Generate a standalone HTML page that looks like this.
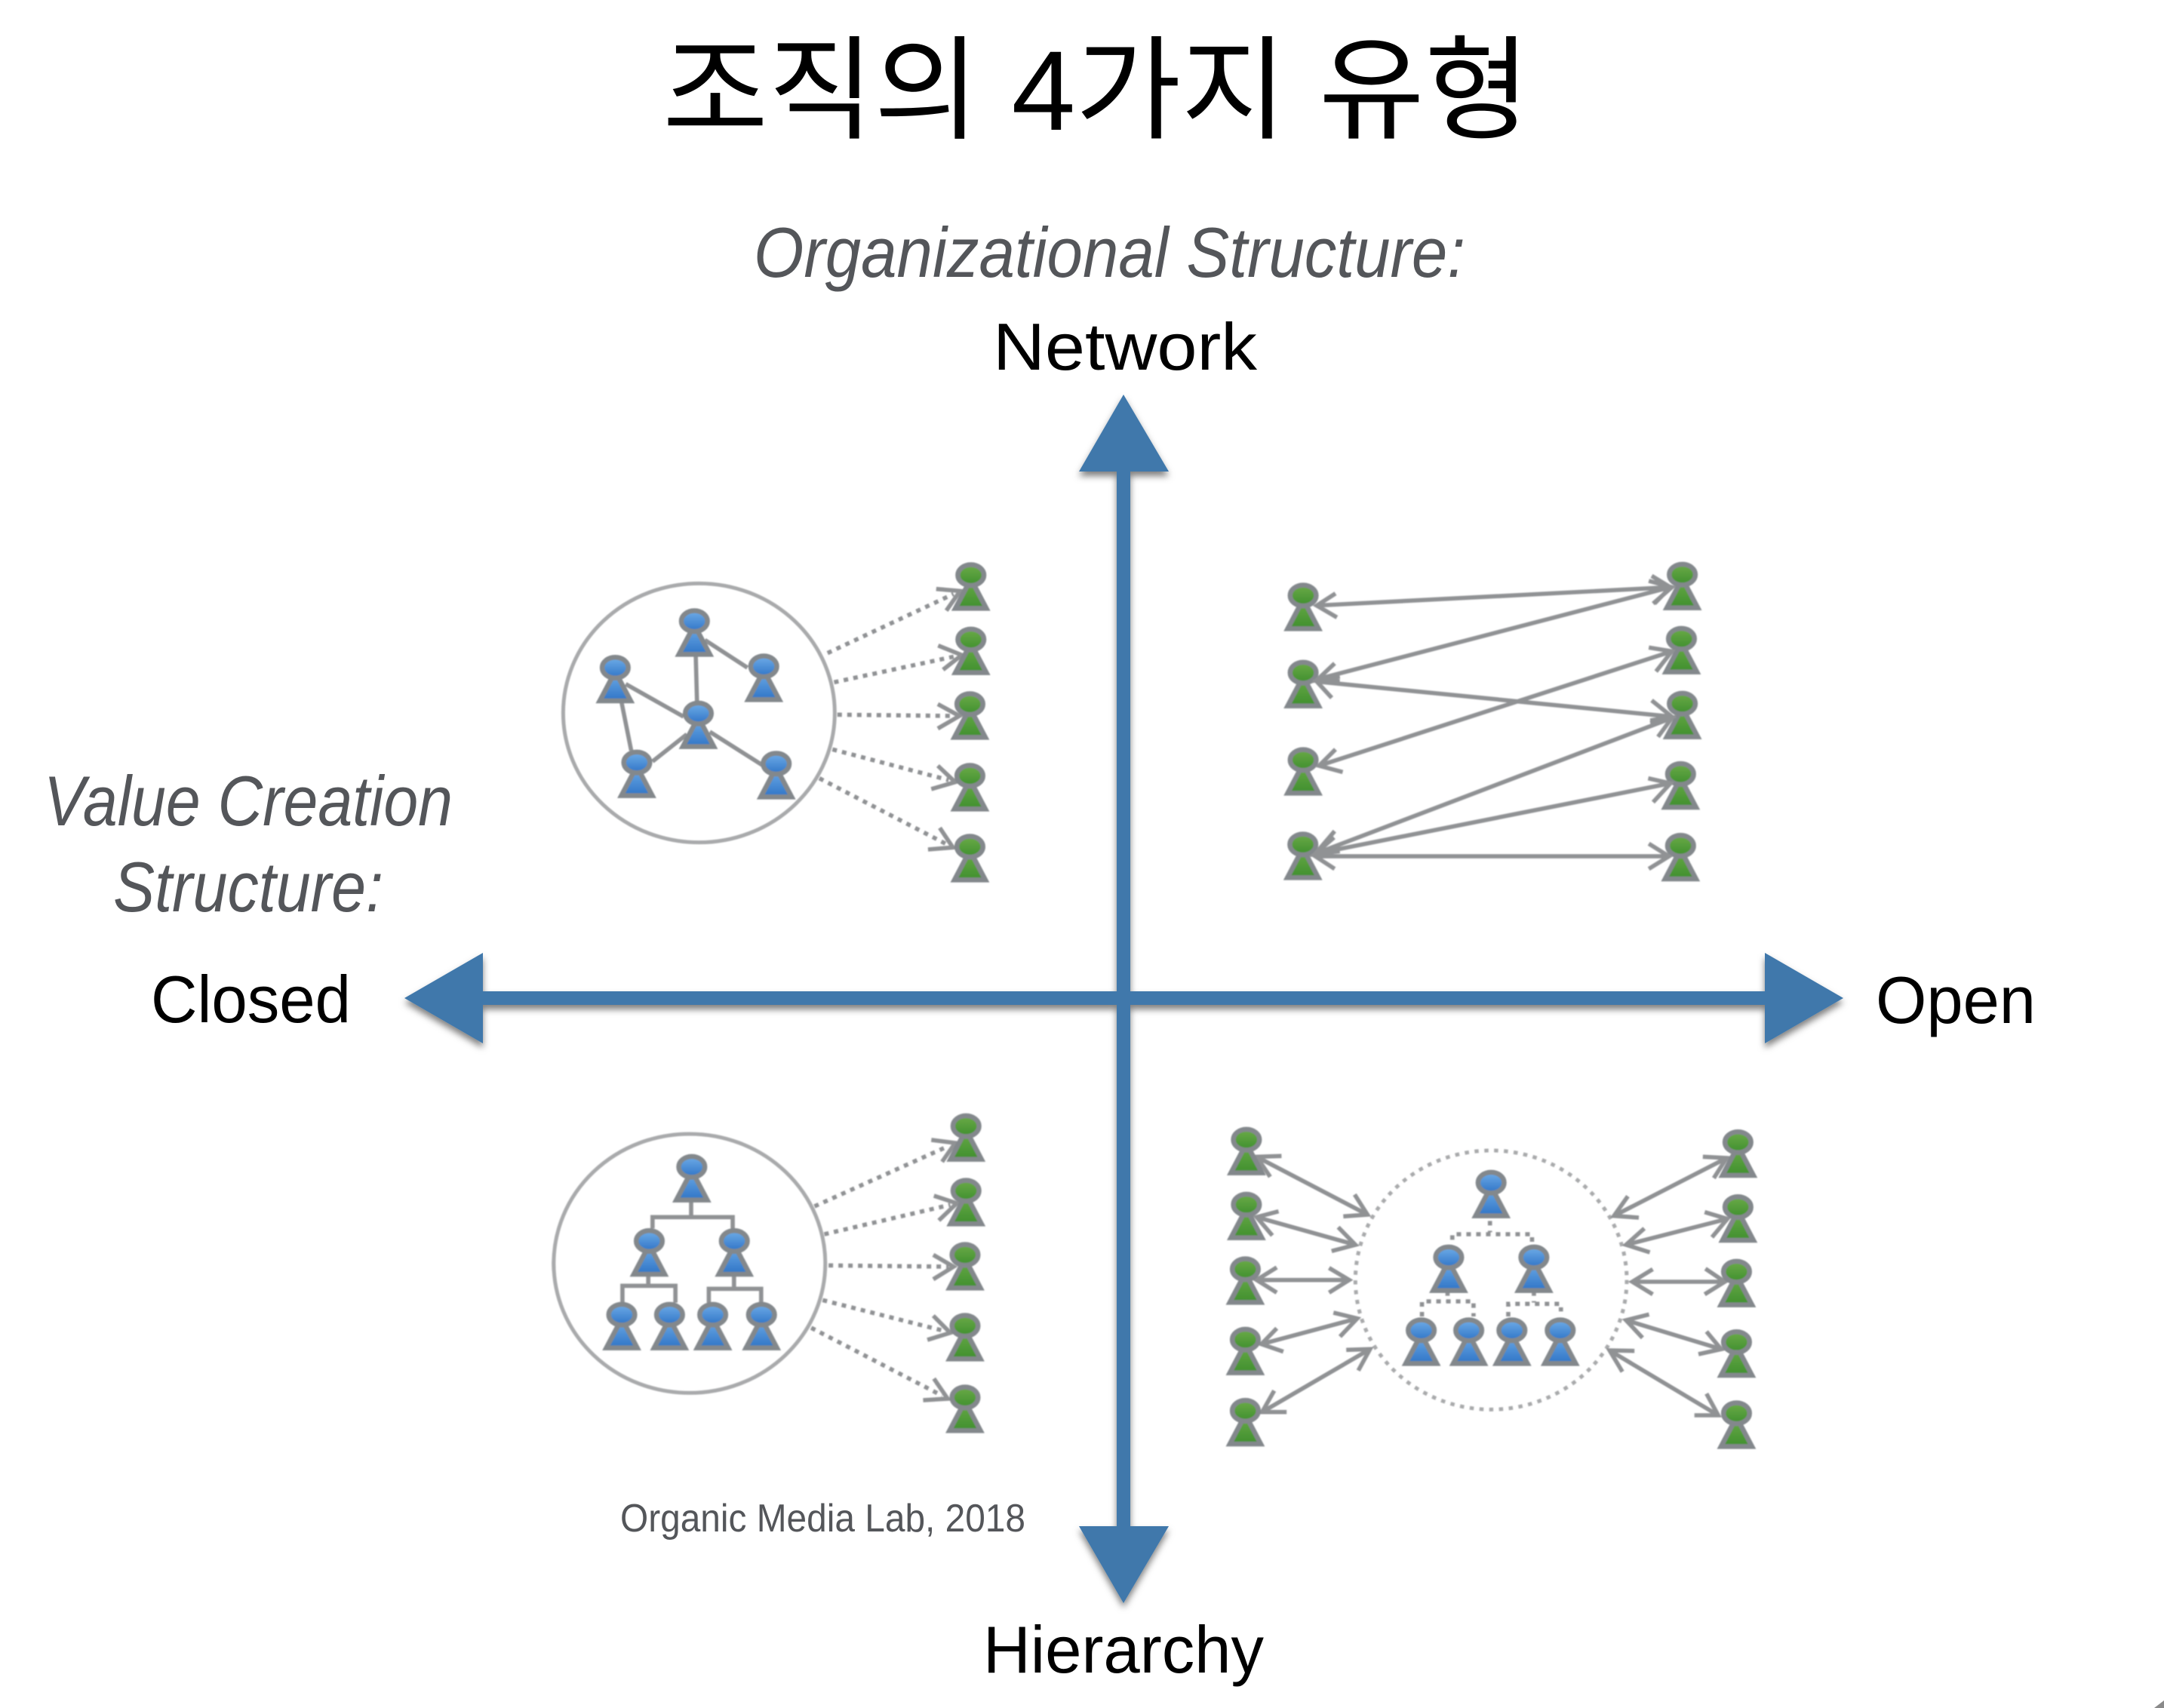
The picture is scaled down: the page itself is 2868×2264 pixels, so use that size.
<!DOCTYPE html>
<html><head><meta charset="utf-8"><style>
html,body{margin:0;padding:0;background:#fff;width:2868px;height:2264px;overflow:hidden}
svg{display:block}
text{font-family:"Liberation Sans","Noto Sans CJK KR",sans-serif}
.s{fill:none;stroke:#909294;stroke-width:5.6;vector-effect:non-scaling-stroke}
.d{fill:none;stroke:#909294;stroke-width:5.6;stroke-dasharray:6 7;vector-effect:non-scaling-stroke}
.c{fill:none;stroke:#a9aaac;stroke-width:5;vector-effect:non-scaling-stroke}
.cd{fill:none;stroke:#a9aaac;stroke-width:5;stroke-dasharray:5.5 7.5;vector-effect:non-scaling-stroke}
</style></head><body>
<svg xmlns="http://www.w3.org/2000/svg" width="2868" height="2264" viewBox="0 0 2868 2264">
<defs>
<linearGradient id="gb" x1="0" y1="0" x2="0" y2="1"><stop offset="0" stop-color="#6fade8"/><stop offset="1" stop-color="#2f74c6"/></linearGradient>
<linearGradient id="gg" x1="0" y1="0" x2="0" y2="1"><stop offset="0" stop-color="#6bab48"/><stop offset="1" stop-color="#3f8f2e"/></linearGradient>
<g id="b"><polygon points="0,5 -20.5,44 20.5,44" fill="url(#gb)" stroke="#83888c" stroke-width="6.5"/><ellipse cx="0" cy="0" rx="17.3" ry="13.8" fill="url(#gb)" stroke="#83888c" stroke-width="6.5"/></g>
<g id="g"><polygon points="0,5 -20.5,44 20.5,44" fill="url(#gg)" stroke="#83888c" stroke-width="6.5"/><ellipse cx="0" cy="0" rx="17.3" ry="13.8" fill="url(#gg)" stroke="#83888c" stroke-width="6.5"/></g>
<filter id="sh" filterUnits="userSpaceOnUse" x="0" y="0" width="2868" height="2264"><feDropShadow dx="0" dy="6" stdDeviation="4.5" flood-color="#000" flood-opacity=".5"/></filter>
<filter id="soft" filterUnits="userSpaceOnUse" x="0" y="0" width="2868" height="2264"><feGaussianBlur stdDeviation=".9"/></filter>
</defs>

<rect width="2868" height="2264" fill="#fff"/>
<polygon points="2868,2264 2855,2264 2868,2254" fill="#8a8a8a"/>

<!-- Axes -->
<g fill="#3f78ab" filter="url(#sh)">
<rect x="1480" y="600" width="18" height="1440"/>
<rect x="620" y="1314" width="1740" height="18"/>
<polygon points="1489,523 1430,625 1549,625"/>
<polygon points="1489,2125 1430,2023 1549,2023"/>
<polygon points="536,1323 640,1263 640,1383"/>
<polygon points="2443,1323 2339,1263 2339,1383"/>
</g>

<g filter="url(#soft)">
<!-- Q1 -->
<g transform="translate(700,720) scale(.43365,.33333)">
<ellipse class="c" cx="522" cy="675" rx="415" ry="515"/>
<path class="s" d="M512 440L516 630M540 385L670 495M298 560L475 690M285 630L315 825M380 868L485 760M555 750L715 882"/>
<path class="d" d="M915 437L1300 202M935 553L1305 450M945 682L1300 687M930 820L1285 942M890 935L1280 1198"/>
<path class="s" d="M1247 182L1320 190L1278 268M1253 407L1325 445L1268 503M1252 640L1318 687L1252 737M1252 885L1305 950L1232 978M1258 1132L1298 1210L1222 1218"/>
<use href="#b" transform="translate(508 310) scale(2.306 3)"/>
<use href="#b" transform="translate(266 495) scale(2.306 3)"/>
<use href="#b" transform="translate(720 490) scale(2.306 3)"/>
<use href="#b" transform="translate(520 677) scale(2.306 3)"/>
<use href="#b" transform="translate(332 872) scale(2.306 3)"/>
<use href="#b" transform="translate(758 877) scale(2.306 3)"/>
<use href="#g" transform="translate(1353 127) scale(2.306 3)"/>
<use href="#g" transform="translate(1353 383) scale(2.306 3)"/>
<use href="#g" transform="translate(1350 640) scale(2.306 3)"/>
<use href="#g" transform="translate(1350 925) scale(2.306 3)"/>
<use href="#g" transform="translate(1350 1207) scale(2.306 3)"/>
</g>

<!-- Q3 -->
<g transform="translate(700,1450) scale(.43365,.33333)">
<ellipse class="c" cx="493" cy="674" rx="415" ry="515"/>
<path class="s" d="M498 430L498 490M380 535L380 490L625 490L625 535M367 725L367 765M288 830L288 763L450 763L450 830M629 725L629 775M552 830L552 775L712 775L712 830"/>
<path class="d" d="M875 447L1285 207M905 558L1290 441M918 682L1285 687M900 820L1270 942M865 930L1265 1200"/>
<path class="s" d="M1232 183L1305 195L1265 270M1240 405L1310 435L1255 503M1238 640L1300 687L1238 737M1238 882L1290 950L1220 978M1240 1132L1282 1212L1207 1218"/>
<use href="#b" transform="translate(500 290) scale(2.306 3)"/>
<use href="#b" transform="translate(370 585) scale(2.306 3)"/>
<use href="#b" transform="translate(630 585) scale(2.306 3)"/>
<use href="#b" transform="translate(286 878) scale(2.306 3)"/>
<use href="#b" transform="translate(432 878) scale(2.306 3)"/>
<use href="#b" transform="translate(564 878) scale(2.306 3)"/>
<use href="#b" transform="translate(713 878) scale(2.306 3)"/>
<use href="#g" transform="translate(1338 128) scale(2.306 3)"/>
<use href="#g" transform="translate(1338 385) scale(2.306 3)"/>
<use href="#g" transform="translate(1335 640) scale(2.306 3)"/>
<use href="#g" transform="translate(1335 922) scale(2.306 3)"/>
<use href="#g" transform="translate(1335 1207) scale(2.306 3)"/>
</g>

<!-- Q2 -->
<g transform="translate(1680,720) scale(.38270,.33333)">
<use href="#g" transform="translate(123 208) scale(2.613 3)"/>
<use href="#g" transform="translate(123 515) scale(2.613 3)"/>
<use href="#g" transform="translate(123 862) scale(2.613 3)"/>
<use href="#g" transform="translate(122 1198) scale(2.613 3)"/>
<use href="#g" transform="translate(1436 125) scale(2.613 3)"/>
<use href="#g" transform="translate(1433 380) scale(2.613 3)"/>
<use href="#g" transform="translate(1436 638) scale(2.613 3)"/>
<use href="#g" transform="translate(1430 918) scale(2.613 3)"/>
<use href="#g" transform="translate(1430 1203) scale(2.613 3)"/>
<path class="s" d="M170 248L1395 175M235 200L170 248L240 295M1330 130L1395 175L1340 240
M1395 175L175 540M232 478L170 545L250 530M1320 150L1400 175L1335 240
M170 550L1400 690M250 548L170 550L222 615M1330 625L1400 690L1325 705
M178 885L1400 430M235 820L178 885L260 910M1320 415L1400 430L1345 510
M165 1235L1400 695M232 1145L165 1235L240 1215M1352 770L1400 695L1325 715
M165 1235L1395 955M230 1170L165 1235L250 1225M1318 935L1395 955L1335 1030
M165 1245L1390 1245M240 1205L165 1245L232 1295M1320 1195L1390 1245L1320 1295"/>
</g>

<!-- Q4 -->
<g transform="translate(1600,1470) scale(.48473,.33333)">
<ellipse class="cd" cx="776" cy="680" rx="371" ry="515"/>
<path class="d" d="M773 445L773 490M670 520L670 498L888 498L888 530M657 725L657 765M587 825L587 765L728 765L728 825M893 725L893 770M823 825L823 775L967 775L967 805"/>
<path class="s" d="M135 190L438 420M203 187L135 190L172 270M403 340L438 420L372 427
M135 430L405 540M195 407L135 430L178 503M358 470L405 540L340 565
M135 680L388 680M190 630L135 680L190 730M333 632L388 680L333 730
M148 935L410 833M190 872L148 935L208 965M345 810L410 833L363 905
M150 1205L445 955M183 1120L150 1205L217 1205M380 958L445 955L413 1040
M1420 195L1112 425M1355 190L1420 195L1385 275M1150 347L1112 425L1180 432
M1422 437L1145 540M1360 410L1422 437L1380 510M1195 475L1145 540L1210 570
M1415 687L1162 687M1362 635L1415 687L1360 737M1218 637L1162 687L1218 737
M1405 955L1145 840M1365 885L1405 955L1343 975M1208 817L1145 840L1190 910
M1397 1218L1100 960M1365 1132L1397 1218L1332 1218M1168 962L1100 960L1135 1045"/>
<use href="#b" transform="translate(776 293) scale(2.063 3)"/>
<use href="#b" transform="translate(660 590) scale(2.063 3)"/>
<use href="#b" transform="translate(893 590) scale(2.063 3)"/>
<use href="#b" transform="translate(585 880) scale(2.063 3)"/>
<use href="#b" transform="translate(715 880) scale(2.063 3)"/>
<use href="#b" transform="translate(833 880) scale(2.063 3)"/>
<use href="#b" transform="translate(965 880) scale(2.063 3)"/>
<use href="#g" transform="translate(107 122) scale(2.063 3)"/>
<use href="#g" transform="translate(107 380) scale(2.063 3)"/>
<use href="#g" transform="translate(104 637) scale(2.063 3)"/>
<use href="#g" transform="translate(104 917) scale(2.063 3)"/>
<use href="#g" transform="translate(104 1200) scale(2.063 3)"/>
<use href="#g" transform="translate(1451 132) scale(2.063 3)"/>
<use href="#g" transform="translate(1451 390) scale(2.063 3)"/>
<use href="#g" transform="translate(1447 647) scale(2.063 3)"/>
<use href="#g" transform="translate(1447 927) scale(2.063 3)"/>
<use href="#g" transform="translate(1447 1210) scale(2.063 3)"/>
</g>
</g>

<!-- Text -->
<text x="878" y="172" font-size="150" fill="#000" textLength="1150" lengthAdjust="spacingAndGlyphs">조직의 4가지 유형</text>
<g font-style="italic" fill="#54565a" font-size="94">
<text x="999" y="367" textLength="943" lengthAdjust="spacingAndGlyphs">Organizational Structure:</text>
<text x="58" y="1094" textLength="542" lengthAdjust="spacingAndGlyphs">Value Creation</text>
<text x="150" y="1208" textLength="358" lengthAdjust="spacingAndGlyphs">Structure:</text>
</g>
<g fill="#000" font-size="88">
<text x="1316" y="490" textLength="350" lengthAdjust="spacingAndGlyphs">Network</text>
<text x="200" y="1355" textLength="265" lengthAdjust="spacingAndGlyphs">Closed</text>
<text x="2486" y="1356" textLength="212" lengthAdjust="spacingAndGlyphs">Open</text>
<text x="1303" y="2217" textLength="372" lengthAdjust="spacingAndGlyphs">Hierarchy</text>
</g>
<text x="822" y="2030" font-size="52" fill="#54565a" textLength="537" lengthAdjust="spacingAndGlyphs">Organic Media Lab, 2018</text>
</svg>
</body></html>
